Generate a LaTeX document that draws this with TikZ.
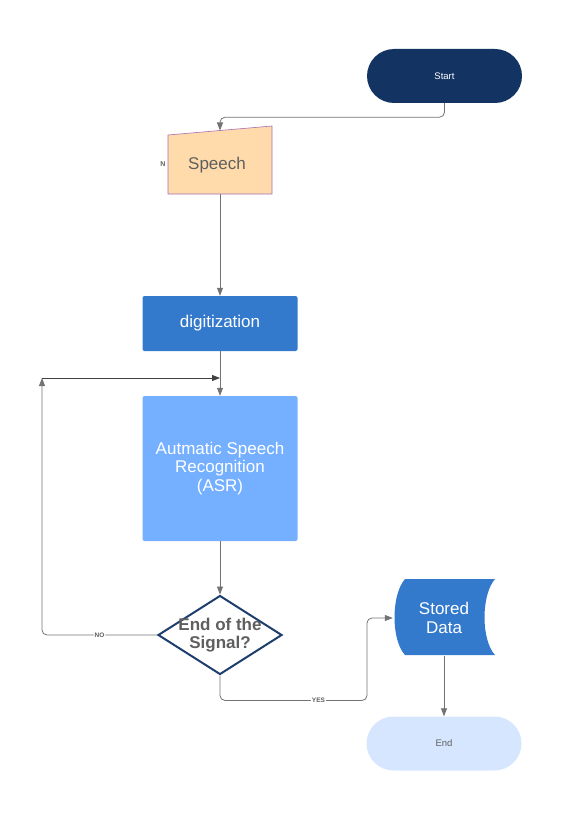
\documentclass[tikz,border=0pt]{standalone}
\usepackage{fontspec}
\setmainfont{Liberation Sans}
\usetikzlibrary{arrows.meta,shapes.geometric}
\definecolor{StartNavy}{RGB}{19,52,99}
\definecolor{DigitBlue}{RGB}{51,121,204}
\definecolor{AsrBlue}{RGB}{116,176,255}
\definecolor{EndBlue}{RGB}{214,230,255}
\definecolor{SpeechFill}{RGB}{255,218,170}
\definecolor{SpeechLine}{RGB}{170,110,180}
\definecolor{DecLine}{RGB}{30,62,110}
\definecolor{TextGray}{RGB}{95,95,95}
\definecolor{LineGray}{RGB}{115,115,115}
\tikzset{
  pill/.style={rectangle, rounded corners=27pt, minimum width=155pt, minimum height=54pt,
    font=\fontsize{9.5}{11}\selectfont},
  procbox/.style={rectangle, rounded corners=2pt, fill=DigitBlue, text=white,
    minimum width=155pt, font=\fontsize{17}{18.5}\selectfont, align=center},
  flowline/.style={draw=LineGray, line width=0.8pt, rounded corners=5pt},
  arr/.style={-{Triangle[length=8pt,width=6pt]}},
  lbl/.style={fill=white, inner sep=1pt, text=TextGray, font=\fontsize{6.5}{7}\bfseries}
}
\begin{document}
\begin{tikzpicture}[x=1pt, y=-1pt]
\useasboundingbox (0,0) rectangle (561,821);
%
\node[pill, fill=StartNavy, text=white] (start) at (444.5,76) {Start};
%
\draw[fill=SpeechFill, draw=SpeechLine, line width=0.6pt] (168,135) -- (272,126) -- (272,194) -- (168,194) -- cycle;
\coordinate (speechtop) at (220,130.5);
\coordinate (speechbot) at (220,194);
\node[text=TextGray, font=\fontsize{17}{18.5}\selectfont] (speech) at (217,165) {Speech};
\node[text=TextGray, font=\fontsize{7}{8}\bfseries] (nmark) at (163,164) {N};
%
\node[procbox, minimum height=55pt] (digit) at (220,323.5) {digitization};
\node[procbox, fill=AsrBlue, minimum height=145pt] (asr) at (220,468.5) {Autmatic Speech\\Recognition\\(ASR)};
%
\node[diamond, draw=DecLine, line width=2pt, fill=white, inner sep=0pt,
  minimum width=124pt, minimum height=79pt] (dec) at (220,635) {};
\node[text=TextGray, font=\fontsize{17}{18}\bfseries, align=center] (dectext) at (dec) {End of the\\Signal?};
%
\draw[fill=DigitBlue, draw=none] (405,579) -- (495,579) .. controls (481,595) and (481,640) .. (495,655)
  -- (405,655) .. controls (391,640) and (391,595) .. (405,579) -- cycle;
\node[text=white, font=\fontsize{17}{18.5}\selectfont, align=center, minimum width=102pt,
  minimum height=76pt] (stored) at (444,618) {Stored\\Data};
%
\node[pill, fill=EndBlue, text=TextGray] (end) at (444,743.5) {End};
%
\coordinate (loop) at (42,378);
%
\draw[flowline, arr] (start.south) -- ++(0,14) -| (speechtop);
\draw[flowline, arr] (speechbot) -- (digit.north);
\draw[flowline, arr] (digit.south) -- (asr.north);
\draw[flowline, arr] (asr.south) -- (dec.north);
\draw[flowline, arr] (dec.west) -| node[lbl, pos=0.25] {NO} (loop);
\draw[flowline, draw=black!75, arr] (loop) -- (loop -| asr.north);
\draw[flowline, arr] (dec.south) -- ++(0,25) -- node[lbl, pos=0.67] {YES} ++(147,0) |- (stored.west);
\draw[flowline, arr] (stored.south) -- (end.north);
\end{tikzpicture}
\end{document}
